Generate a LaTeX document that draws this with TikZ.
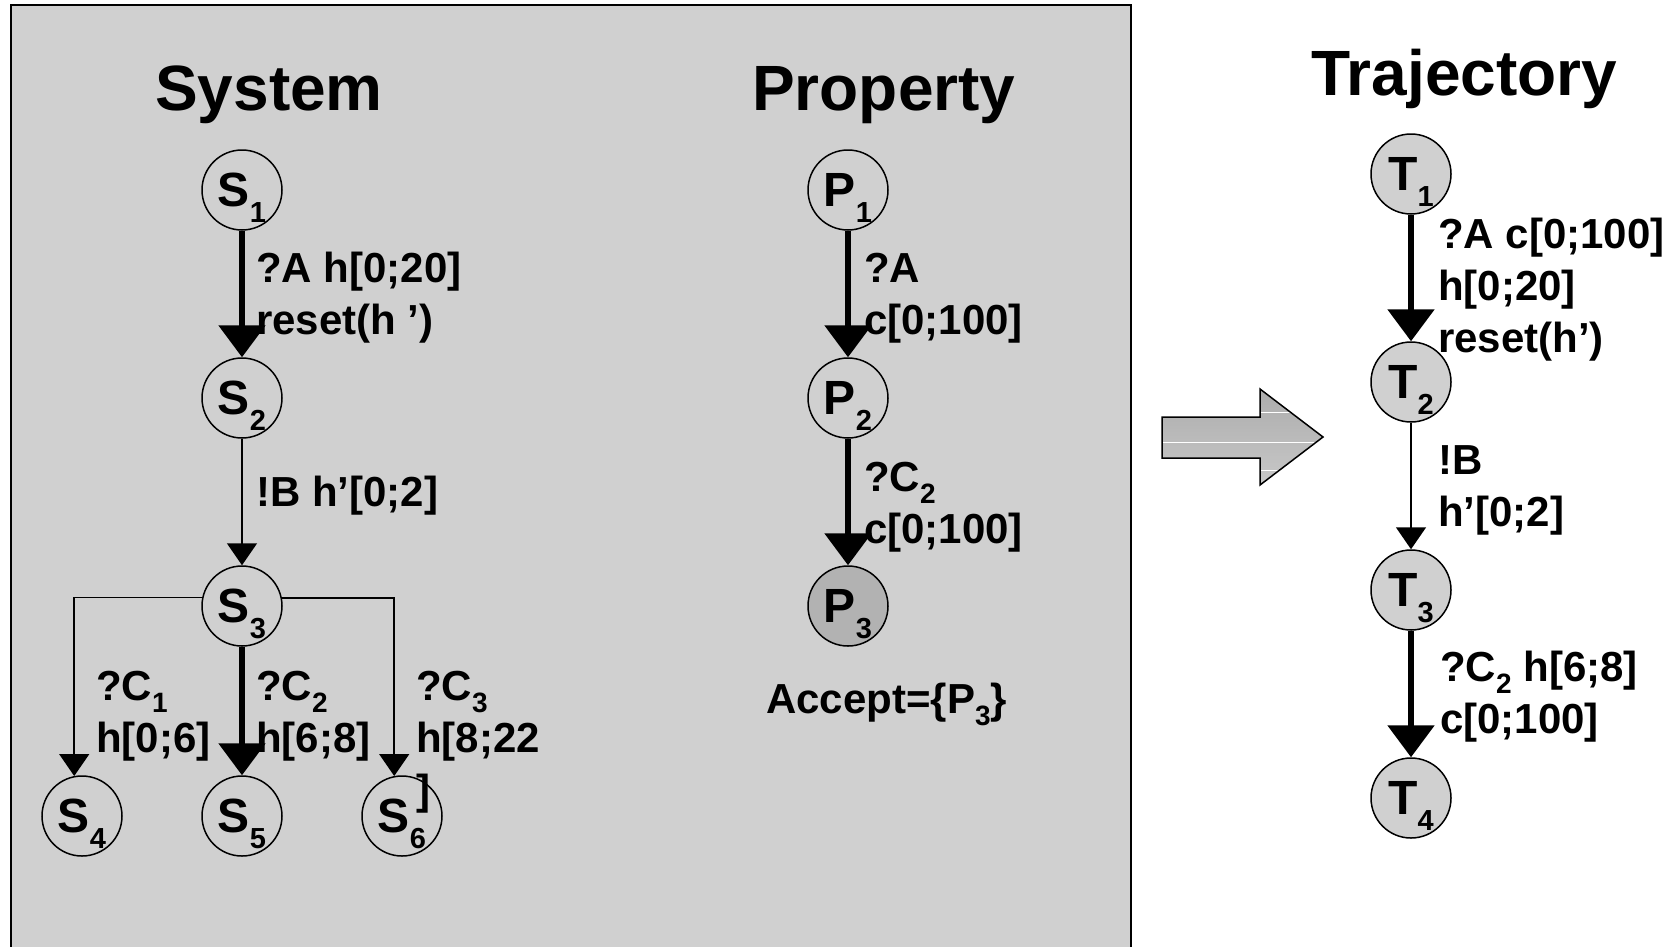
\documentclass[tikz,border=0pt]{standalone}
\usepackage{fontspec}
\setmainfont{Liberation Sans}
\usetikzlibrary{arrows.meta}
\definecolor{boxgray}{RGB}{208,208,208}
\definecolor{accgray}{RGB}{178,178,178}
\definecolor{arrtop}{RGB}{172,172,172}
\definecolor{arrbot}{RGB}{200,200,200}
\newcommand{\nsub}[1]{\raisebox{-16pt}[0pt][0pt]{\fontsize{29}{29}\selectfont #1}}
\newcommand{\lsub}[1]{\raisebox{-12pt}[0pt][0pt]{\fontsize{28}{28}\selectfont #1}}
\begin{document}
\begin{tikzpicture}[x=1pt,y=-1pt,
  st/.style={circle,draw,line width=1.5pt,minimum size=80pt,inner sep=0pt,
    font=\fontsize{48}{48}\selectfont\bfseries},
  tst/.style={st,fill=boxgray},
  acc/.style={st,fill=accgray},
  title/.style={anchor=base west,inner sep=0pt,font=\fontsize{64}{64}\selectfont\bfseries},
  lab/.style={anchor=north west,inner sep=0pt,align=left,font=\fontsize{42}{52}\selectfont\bfseries},
  thickarr/.style={line width=5.7pt,-{Triangle[width=46pt,length=32pt]}},
  thinarr/.style={line width=1.5pt,-{Triangle[width=30pt,length=22pt]}},
]
\useasboundingbox (0,0) rectangle (1673,946);
\begin{scope}
  \clip (0,0) rectangle (1673,946);
  \draw[line width=2pt,fill=boxgray] (11,5) rectangle (1131,960);
\end{scope}

% titles
\node[title] (tsys) at (155,110) {System};
\node[title] (tprop) at (752,110) {Property};
\node[title] (ttraj) at (1311,95) {Trajectory};

% system nodes
\node[st] (S1) at (242,190) {S\nsub{1}};
\node[st] (S2) at (242,398) {S\nsub{2}};
\node[st] (S3) at (242,606) {S\nsub{3}};
\node[st] (S4) at (82,816) {S\nsub{4}};
\node[st] (S5) at (242,816) {S\nsub{5}};
\node[st] (S6) at (402,816) {S\nsub{6}};

% property nodes
\node[st] (P1) at (848,190) {P\nsub{1}};
\node[st] (P2) at (848,398) {P\nsub{2}};
\node[acc] (P3) at (848,606) {P\nsub{3}};

% trajectory nodes
\node[tst] (T1) at (1411,174) {T\nsub{1}};
\node[tst] (T2) at (1411,382) {T\nsub{2}};
\node[tst] (T3) at (1411,590) {T\nsub{3}};
\node[tst] (T4) at (1411,798) {T\nsub{4}};

% connectors
\draw[thickarr] (S1) -- (S2);
\draw[thinarr] (S2) -- (S3);
\draw[thinarr] (S3.168.5) -| (S4.101.5);
\draw[thickarr] (S3) -- (S5);
\draw[thinarr] (S3.11.5) -| (S6.101.5);
\draw[thickarr] (P1) -- (P2);
\draw[thickarr] (P2) -- (P3);
\draw[thickarr] (T1) -- (T2);
\draw[thinarr] (T2) -- (T3);
\draw[thickarr] (T3) -- (T4);

% labels
\node[lab] (l12) at (256,245.6) {\strut ?A h[0;20]\\\strut reset(h ’)};
\node[lab] (l23) at (256,469.6) {\strut !B h’[0;2]};
\node[lab] (l34) at (96,663.6) {\strut ?C\lsub{1}\\\strut h[0;6]};
\node[lab] (l35) at (256,663.6) {\strut ?C\lsub{2}\\\strut h[6;8]};
\node[lab] (l36) at (416,663.6) {\strut ?C\lsub{3}\\\strut h[8;22\\\strut ]};
\node[lab] (lp12) at (864,245.6) {\strut ?A\\\strut c[0;100]};
\node[lab] (lp23) at (864,454.6) {\strut ?C\lsub{2}\\\strut c[0;100]};
\node[anchor=base west,inner sep=0pt,font=\fontsize{42}{52}\selectfont\bfseries] (accept) at (766,713) {Accept=\{P\lsub{3}\}};
\node[lab] (lt12) at (1438,211.6) {\strut ?A c[0;100]\\\strut h[0;20]\\\strut reset(h’)};
\node[lab] (lt23) at (1438,437.6) {\strut !B\\\strut h’[0;2]};
\node[lab] (lt34) at (1440,644.6) {\strut ?C\lsub{2} h[6;8]\\\strut c[0;100]};

% fat arrow
\shade[top color=arrtop,bottom color=arrbot]
  (1162,417) -- (1260,417) -- (1260,389) -- (1323,437) -- (1260,485) -- (1260,458) -- (1162,458) -- cycle;
\begin{scope}
  \clip (1162,417) -- (1260,417) -- (1260,389) -- (1323,437) -- (1260,485) -- (1260,458) -- (1162,458) -- cycle;
  \draw[white,line width=1pt] (1260,412) -- (1330,412);
  \draw[white,line width=1pt] (1162,442) -- (1330,442);
  \draw[white,line width=1pt] (1260,470) -- (1330,470);
\end{scope}
\draw[line width=1.5pt,line join=miter]
  (1162,417) -- (1260,417) -- (1260,389) -- (1323,437) -- (1260,485) -- (1260,458) -- (1162,458) -- cycle;
\end{tikzpicture}
\end{document}
